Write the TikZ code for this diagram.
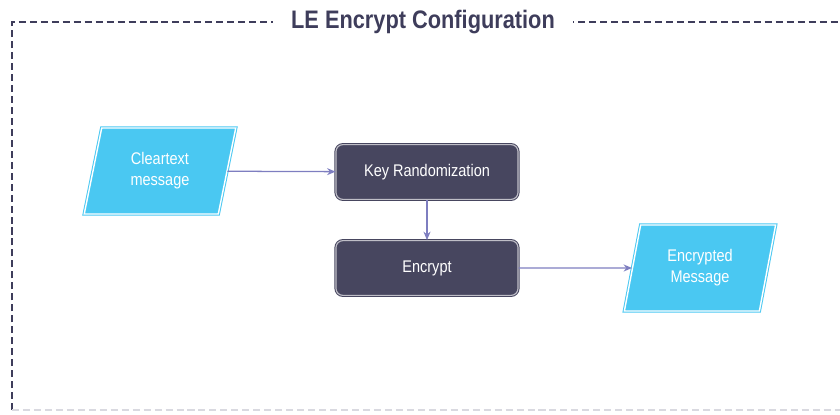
\documentclass[tikz,border=0pt]{standalone}
\usepackage{fontspec}
\setmainfont{Liberation Sans}[FakeStretch=0.86]
\usetikzlibrary{shapes.geometric,arrows.meta}
\definecolor{msgcyan}{HTML}{4AC8F2}
\definecolor{stepdark}{HTML}{47465F}
\definecolor{arrowblue}{HTML}{7E7EC0}
\definecolor{titlenavy}{HTML}{3E3D5B}
\definecolor{framegray}{HTML}{D9D9E0}
\begin{document}
\begin{tikzpicture}[x=0.025cm, y=-0.025cm, >={Stealth[length=6pt,width=5pt]},
  msg node/.style={trapezium, trapezium left angle=77.5, trapezium right angle=102.5, trapezium stretches=true,
    minimum width=3.8cm, minimum height=2.15cm, fill=msgcyan, draw=msgcyan, line width=0.7pt, double=white, double distance=1pt,
    text=white, align=center, font=\fontsize{12}{15}\selectfont},
  step node/.style={rectangle, rounded corners=5pt, minimum width=4.55cm, minimum height=1.37cm,
    fill=stepdark, draw=stepdark, line width=0.7pt, double=stepdark!35!white, double distance=0.8pt,
    text=white, font=\fontsize{12}{15}\selectfont},
  flow/.style={draw=arrowblue, line width=0.9pt, ->}]
\useasboundingbox (0,0) rectangle (840,414);
% frame
\draw[titlenavy, line width=1pt, dash pattern=on 5pt off 2.8pt] (12,410) -- (12,22) -- (860,22);
\draw[framegray, line width=1pt, dash pattern=on 5pt off 2.8pt] (12,410) -- (860,410);
\node[fill=white, text=titlenavy, inner xsep=13pt, font=\bfseries\fontsize{18}{20}\selectfont] (title) at (423,22) {LE Encrypt Configuration};
% nodes
\node[msg node] (clear) at (160,171) {Cleartext\\message};%1
\node[step node] (keyrand) at (427,172) {Key Randomization};%2
\node[step node] (encrypt) at (427,268) {Encrypt};%3
\node[msg node] (encmsg) at (700,268) {Encrypted\\Message};%4
% connectors
\draw[flow] (clear) -- (keyrand);
\draw[flow] (keyrand) -- (encrypt);
\draw[flow] (encrypt) -- (encmsg);
\end{tikzpicture}
\end{document}
